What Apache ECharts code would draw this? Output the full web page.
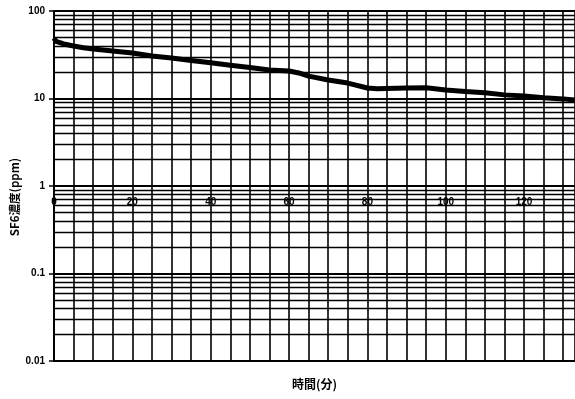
<!DOCTYPE html>
<html>
<head>
<meta charset="utf-8">
<script src="https://cdn.jsdelivr.net/npm/echarts@6/dist/echarts.min.js"></script>
<style>
  html, body { margin: 0; padding: 0; background: #fff; }
  #chart { width: 575px; height: 399px; }
</style>
</head>
<body>
<div id="chart"></div>
<script>
// Elapsed time (minutes) and SF6 concentration (ppm)
var times = [0, 0.5, 2.5, 5, 7.5, 10, 15, 20, 25, 30, 35, 40, 45, 50, 55, 60, 62.5, 65, 70, 75, 80, 82.5, 85, 90, 95, 100, 105, 110, 115, 120, 125, 130, 133];
var conc  = [49, 45, 42, 39.8, 38, 36.8, 35, 33.1, 30.6, 29, 27.2, 25.6, 24, 22.6, 21.2, 20.6, 19.6, 18, 16.3, 15, 13.2, 12.9, 13, 13.2, 13.3, 12.5, 12, 11.6, 11, 10.7, 10.2, 9.9, 9.6];

// Time tick labels written along the 1 ppm line
var timeLabels = [0, 20, 40, 60, 80, 100, 120];

// Log-scale minor grid values (2..9 in each decade)
var minorGrid = [
  0.02, 0.03, 0.04, 0.05, 0.06, 0.07, 0.08, 0.09,
  0.2, 0.3, 0.4, 0.5, 0.6, 0.7, 0.8, 0.9,
  2, 3, 4, 5, 6, 7, 8, 9,
  20, 30, 40, 50, 60, 70, 80, 90
];

var points = times.map(function (t, i) { return [t, conc[i]]; });
var numFont = 'Liberation Sans';
var cjkFont = 'Noto Sans CJK JP';

var chart = echarts.init(document.getElementById('chart'), null, { renderer: 'canvas' });
chart.setOption({
  animation: false,
  backgroundColor: '#fff',
  grid: { left: 54, right: 0, top: 11, bottom: 38, containLabel: false, outerBoundsMode: 'none' },
  xAxis: [
    {
      type: 'value', min: 0, max: 133, interval: 5,
      name: '時間(分)', nameLocation: 'middle', nameGap: 17,
      nameTextStyle: { fontFamily: cjkFont, fontWeight: 'bold', fontSize: 12, color: '#000' },
      axisLine: { show: true, lineStyle: { color: '#000', width: 2 } },
      axisTick: { show: false },
      axisLabel: { show: false },
      splitLine: { show: true, lineStyle: { color: '#000', width: 1.6 } }
    },
    {
      type: 'value', min: 0, max: 133, interval: 20,
      position: 'bottom', offset: -175,
      axisLine: { show: false }, axisTick: { show: false },
      splitLine: { show: false },
      axisLabel: {
        show: true, margin: 11, showMaxLabel: false,
        fontFamily: numFont, fontWeight: 'bold', fontSize: 10, color: '#000',
        formatter: function (v) { return timeLabels.indexOf(v) >= 0 ? String(v) : ''; }
      }
    }
  ],
  yAxis: {
    type: 'log', logBase: 10, min: 0.01, max: 100,
    name: 'SF6濃度(ppm)', nameLocation: 'middle', nameGap: 39, nameRotate: 90,
    nameMoveOverlap: false,
    nameTextStyle: { fontFamily: cjkFont, fontWeight: 'bold', fontSize: 11.5, color: '#000', verticalAlign: 'middle', padding: [0, 0, 0, -22] },
    axisLine: { show: true, lineStyle: { color: '#000', width: 2 } },
    axisTick: { show: true, length: 5, lineStyle: { color: '#000', width: 1.5 } },
    axisLabel: {
      margin: 9, fontFamily: numFont, fontWeight: 'bold', fontSize: 10, color: '#000',
      formatter: function (v) {
        var map = { '-2': '0.01', '-1': '0.1', '0': '1', '1': '10', '2': '100' };
        var k = Math.round(Math.log(v) / Math.LN10);
        return map[String(k)] || '';
      }
    },
    splitLine: { show: true, lineStyle: { color: '#000', width: 2 } }
  },
  series: [
    {
      type: 'line',
      xAxisIndex: 0,
      data: points,
      showSymbol: false,
      symbol: 'none',
      lineStyle: { color: '#000', width: 5 },
      z: 5,
      markLine: {
        silent: true,
        symbol: ['none', 'none'],
        label: { show: false },
        lineStyle: { color: '#000', type: 'solid', width: 1.3 },
        data: minorGrid.map(function (v) { return { yAxis: v }; })
      }
    }
  ]
});
</script>
</body>
</html>
